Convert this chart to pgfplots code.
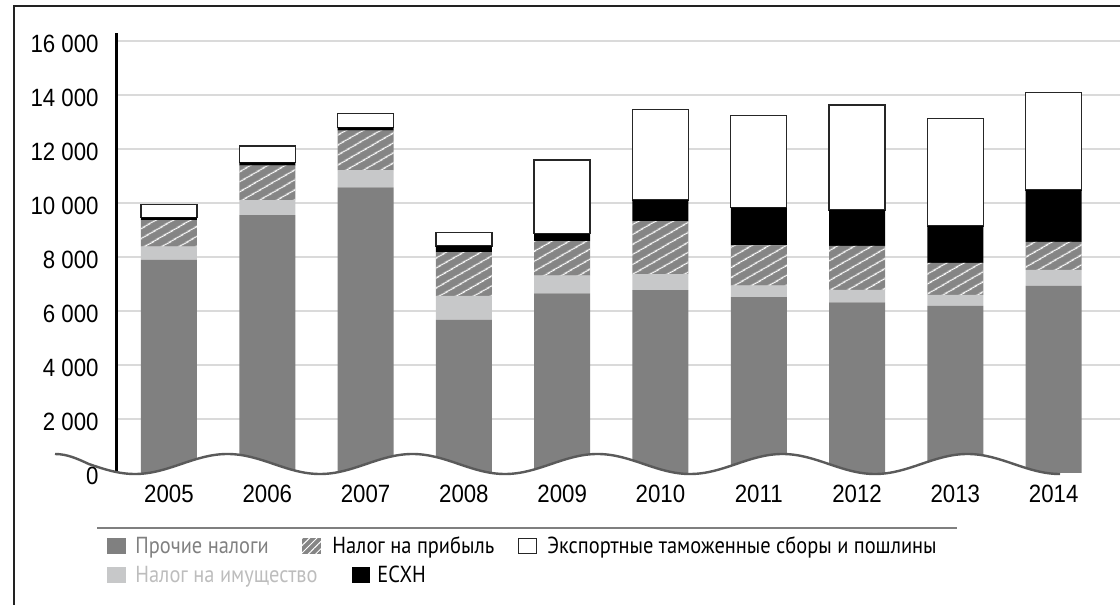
\documentclass[border=0pt]{standalone}
\usepackage{fontspec}
\setmainfont{Liberation Sans}
\newfontfamily\tickfont[FakeStretch=0.89]{Liberation Sans}
\newfontfamily\legfont[FakeStretch=0.88]{PT Sans}
\usepackage{pgfplots}
\pgfplotsset{compat=1.18}
\usepackage{pgfplotstable}
\usetikzlibrary{patterns.meta}

\definecolor{dgray}{HTML}{808080}
\definecolor{lgray}{HTML}{C7C8C9}
\definecolor{hgray}{HTML}{858585}
\definecolor{gridc}{HTML}{DADADA}
\definecolor{wavec}{HTML}{5A5A5A}
\definecolor{framec}{HTML}{222222}
\definecolor{legline}{HTML}{7F7F7F}
\definecolor{ltext}{HTML}{BDBDBD}

\pgfplotstableread{
idx gray light hatch black white
0 7890 490 990 100 470
1 9550 560 1270 120 610
2 10580 640 1460 120 520
3 5670 890 1620 230 500
4 6650 660 1280 270 2730
5 6770 600 1960 780 3360
6 6510 430 1490 1400 3420
7 6320 460 1630 1330 3890
8 6190 410 1180 1370 3980
9 6930 590 1040 1920 3610
}\data

\begin{document}
\begin{tikzpicture}
\useasboundingbox (0,0) rectangle (560pt,302.5pt);
\begin{axis}[
  at={(58.5pt,64.65pt)}, anchor=south west,
  scale only axis, width=501.5pt, height=221.35pt,
  xmin=-0.529, xmax=9.675, ymin=-100, ymax=16296,
  ybar stacked, bar width=28pt,
  axis x line*=bottom, axis y line*=left,
  x axis line style={draw=none},
  y axis line style={line width=1.5pt, black, -},
  major tick length=0pt, tick style={draw=none},
  scaled y ticks=false,
  xtick={0,1,2,3,4,5,6,7,8,9},
  xticklabels={2005,2006,2007,2008,2009,2010,2011,2012,2013,2014},
  ytick={2000,4000,6000,8000,10000,12000,14000,16000},
  yticklabels={2 000,4 000,6 000,8 000,10 000,12 000,14 000,16 000},
  extra y ticks={0}, extra y tick labels={0},
  extra y tick style={grid=none},
  ymajorgrids, grid style={draw=gridc, line width=1.25pt},
  ticklabel style={font=\tickfont\fontsize{12.5}{14}\selectfont, inner sep=0pt},
  xticklabel style={anchor=north, yshift=-4.65pt},
  yticklabel style={anchor=east, xshift=-9pt, yshift=-1.25pt},
]
\addplot[fill=dgray, draw=none] table[x=idx,y=gray]{\data};
\addplot[fill=lgray, draw=none] table[x=idx,y=light]{\data};
\addplot[fill=hgray, draw=none, postaction={pattern={Lines[angle=30,distance=4pt,line width=0.6pt]},pattern color=white}] table[x=idx,y=hatch]{\data};
\addplot[fill=black, draw=none] table[x=idx,y=black]{\data};
\addplot[fill=white, draw=black!85, line width=0.7pt] table[x=idx,y=white]{\data};
\end{axis}

\begin{scope}[x=0.5pt,y=-0.5pt,shift={(0pt,302.5pt)}]
  \begin{scope}
    \clip (110,0) rectangle (1070,477);
    \fill[white] (55,454) cos (88.75,464) sin (135,474) cos (181.25,464) sin (227.5,454) cos (273.75,464) sin (320,474) cos (366.25,464) sin (412.5,454) cos (458.75,464) sin (505,474) cos (551.25,464) sin (597.5,454) cos (643.75,464) sin (690,474) cos (736.25,464) sin (782.5,454) cos (828.75,464) sin (875,474) cos (921.25,464) sin (967.5,454) cos (1013.75,464) sin (1060,474) -- (1060,477) -- (55,477) -- cycle;
  \end{scope}
  \draw[wavec, line width=1.2pt] (55,454) cos (88.75,464) sin (135,474) cos (181.25,464) sin (227.5,454) cos (273.75,464) sin (320,474) cos (366.25,464) sin (412.5,454) cos (458.75,464) sin (505,474) cos (551.25,464) sin (597.5,454) cos (643.75,464) sin (690,474) cos (736.25,464) sin (782.5,454) cos (828.75,464) sin (875,474) cos (921.25,464) sin (967.5,454) cos (1013.75,464) sin (1060,474);
\end{scope}

% frame
\draw[framec, line width=1pt] (7pt,0pt) -- (7pt,299.5pt) -- (560pt,299.5pt);

% legend
\draw[legline, line width=0.75pt] (48.5pt,38.5pt) -- (478.5pt,38.5pt);
\def\lf{\legfont\fontsize{11.6}{13}\selectfont}
\fill[dgray] (53.5pt,25.5pt) rectangle (63pt,33.5pt);
\node[anchor=base west, inner sep=0pt, text=dgray, font=\lf] at (67.5pt,25.75pt) {Прочие налоги};
\fill[hgray, postaction={pattern={Lines[angle=45,distance=2.6pt,line width=0.5pt]},pattern color=white}] (151pt,25.5pt) rectangle (160.5pt,33.5pt);
\node[anchor=base west, inner sep=0pt, text=black, font=\lf] at (166pt,25.75pt) {Налог на прибыль};
\draw[black!85, line width=0.5pt, fill=white] (259.25pt,25.75pt) rectangle (268pt,33.25pt);
\node[anchor=base west, inner sep=0pt, text=black, font=\lf] at (273.5pt,25.75pt) {Экспортные таможенные сборы и пошлины};
\fill[lgray] (53.5pt,11.15pt) rectangle (63pt,19.15pt);
\node[anchor=base west, inner sep=0pt, text=ltext, font=\lf] at (67.5pt,11.25pt) {Налог на имущество};
\fill[black] (176pt,11.15pt) rectangle (185pt,19.15pt);
\node[anchor=base west, inner sep=0pt, text=black, font=\lf] at (188.5pt,11.25pt) {ЕСХН};
\end{tikzpicture}
\end{document}
